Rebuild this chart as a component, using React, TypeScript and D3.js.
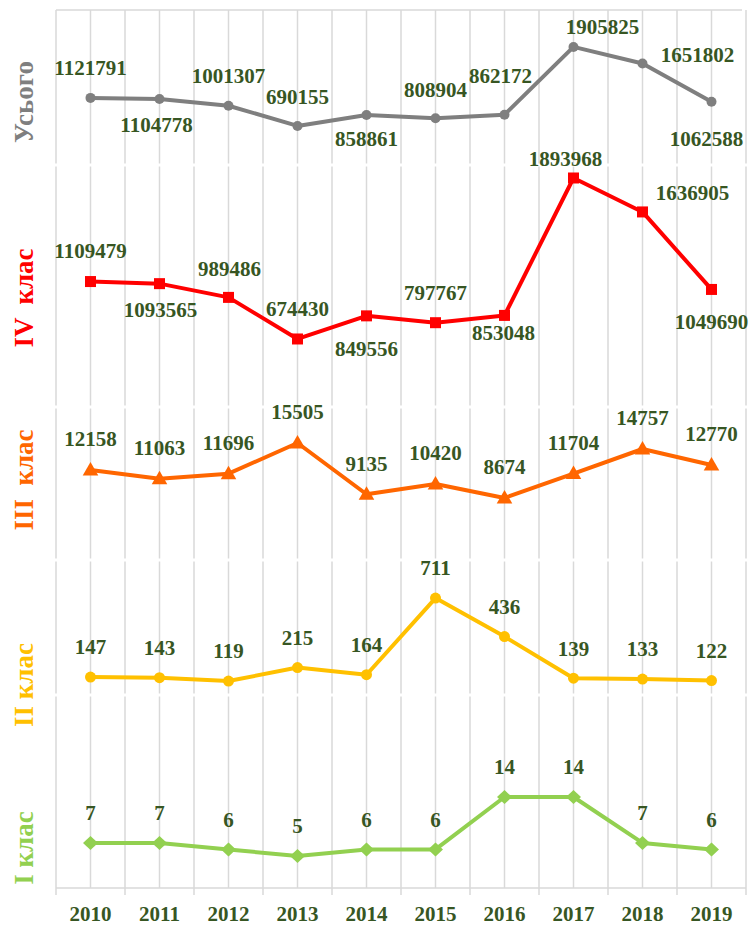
import React from "react";
import * as d3 from "d3";

const years = ["2010", "2011", "2012", "2013", "2014", "2015", "2016", "2017", "2018", "2019"];
const totalValues = [1121791, 1104778, 1001307, 690155, 858861, 808904, 862172, 1905825, 1651802, 1062588];
const class4Values = [1109479, 1093565, 989486, 674430, 849556, 797767, 853048, 1893968, 1636905, 1049690];
const class3Values = [12158, 11063, 11696, 15505, 9135, 10420, 8674, 11704, 14757, 12770];
const class2Values = [147, 143, 119, 215, 164, 711, 436, 139, 133, 122];
const class1Values = [7, 7, 6, 5, 6, 6, 14, 14, 7, 6];
const panelTitles = ["Усього", "IV  клас", "III  клас", "II клас", "I клас"];

// label offsets (dx, dy) relative to each point
const totalLabelOffsets = [[0, -30], [-3, 26], [0, -30], [0, -29], [0, 24], [0, -29], [-4, -39], [29, -20], [55, -9], [-5, 37]];
const class4LabelOffsets = [[0, -31], [1, 26], [1, -29], [0, -30], [0, 33], [0, -30], [-1, 17], [-8, -19], [50, -19], [0, 32]];
const above = [0, -31];

const W = 753;
const H = 926;
const LEFT = 56;
const RIGHT = 746;
const TOP = 10;
const BOTTOM = 888;
const BREAKS = [TOP, 165, 407, 560, 695, BOTTOM];
const LABEL_COLOR = "#375623";
const FONT = "'Liberation Serif', 'Times New Roman', serif";

type Panel = {
  title: string;
  values: number[];
  color: string;
  marker: "circle" | "square" | "triangle" | "diamond";
  domain: [number, number];
  range: [number, number];
  titleY: number;
  offsets: number[][];
};

const panels: Panel[] = [
  { title: panelTitles[0], values: totalValues, color: "#7f7f7f", marker: "circle", domain: [0, 2000000], range: [170.8, 40.8], titleY: 102, offsets: totalLabelOffsets },
  { title: panelTitles[1], values: class4Values, color: "#ff0000", marker: "square", domain: [0, 2000000], range: [428, 164], titleY: 298, offsets: class4LabelOffsets },
  { title: panelTitles[2], values: class3Values, color: "#ff6600", marker: "triangle", domain: [0, 18000], range: [567.8, 422.9], titleY: 480, offsets: class3Values.map(() => above) },
  { title: panelTitles[3], values: class2Values, color: "#ffc000", marker: "circle", domain: [0, 800], range: [697.7, 585.6], titleY: 685, offsets: class2Values.map(() => [0, -30]) },
  { title: panelTitles[4], values: class1Values, color: "#92d050", marker: "diamond", domain: [0, 16], range: [888.8, 783.9], titleY: 848, offsets: class1Values.map(() => [0, -30]) },
];

function Marker({ type, x, y, color, r }: { type: string; x: number; y: number; color: string; r?: number }) {
  if (type === "circle") return <circle cx={x} cy={y} r={r ?? 5} fill={color} />;
  if (type === "square") return <rect x={x - 5.5} y={y - 5.5} width={11} height={11} fill={color} />;
  if (type === "triangle") {
    const p = d3.symbol().type(d3.symbolTriangle).size(105)();
    return <path d={p as string} transform={`translate(${x},${y + 1})`} fill={color} />;
  }
  const d = `M${x},${y - 7}L${x + 7.5},${y}L${x},${y + 7}L${x - 7.5},${y}Z`;
  return <path d={d} fill={color} />;
}

export default function App() {
  const xBand = d3.scaleBand<string>().domain(years).range([LEFT, RIGHT]).padding(0);
  const bw = xBand.bandwidth();
  const cx = (yr: string) => (xBand(yr) as number) + bw / 2;

  const gridXs: number[] = [];
  for (let k = 0; k <= years.length * 2; k++) gridXs.push(LEFT + (k * bw) / 2);

  return (
    <svg width={W} height={H} style={{ position: "absolute", left: 0, top: 0, display: "block", background: "#fff" }}>
      <rect x={0} y={0} width={W} height={H} fill="#fff" />
      {/* gridlines */}
      {gridXs.map((gx, i) =>
        BREAKS.slice(0, -1).map((b, j) => (
          <line key={`g${i}-${j}`} x1={gx} x2={gx} y1={b + (j === 0 ? 0 : 1.5)} y2={BREAKS[j + 1] - (j === BREAKS.length - 2 ? 0 : 1.5)} stroke="#d9d9d9" strokeWidth={1.5} />
        ))
      )}
      <line x1={LEFT} x2={RIGHT - 4} y1={TOP} y2={TOP} stroke="#d9d9d9" strokeWidth={1.5} />
      <line x1={LEFT} x2={RIGHT} y1={BOTTOM} y2={BOTTOM} stroke="#d9d9d9" strokeWidth={1.5} />
      {years.map((yr, i) => (
        <line key={`t${i}`} x1={xBand(yr) as number} x2={xBand(yr) as number} y1={BOTTOM} y2={BOTTOM + 7} stroke="#d9d9d9" strokeWidth={1.5} />
      ))}
      <line x1={RIGHT} x2={RIGHT} y1={BOTTOM} y2={BOTTOM + 7} stroke="#d9d9d9" strokeWidth={1.5} />

      {/* x axis labels */}
      {years.map((yr) => (
        <text key={`x${yr}`} x={cx(yr)} y={914} dy="0.35em" textAnchor="middle" fontFamily={FONT} fontWeight="bold" fontSize={21} fill={LABEL_COLOR}>
          {yr}
        </text>
      ))}

      {panels.map((p, pi) => {
        const y = d3.scaleLinear().domain(p.domain).range(p.range);
        const line = d3
          .line<number>()
          .x((_, i) => cx(years[i]))
          .y((v) => y(v));
        return (
          <g key={`p${pi}`}>
            <text
              transform={`translate(33,${p.titleY}) rotate(-90)`}
              textAnchor="middle"
              fontFamily={FONT}
              fontWeight="bold"
              fontSize={27}
              fill={p.color}
              style={{ whiteSpace: "pre" }}
            >
              {p.title}
            </text>
            <path d={line(p.values) as string} fill="none" stroke={p.color} strokeWidth={4} strokeLinejoin="round" strokeLinecap="round" />
            {p.values.map((v, i) => (
              <Marker key={`m${i}`} type={p.marker} x={cx(years[i])} y={y(v)} color={p.color} r={pi === 3 ? 5.5 : 5} />
            ))}
            {p.values.map((v, i) => (
              <text
                key={`l${i}`}
                x={cx(years[i]) + p.offsets[i][0]}
                y={y(v) + p.offsets[i][1]}
                dy="0.35em"
                textAnchor="middle"
                fontFamily={FONT}
                fontWeight="bold"
                fontSize={21}
                fill={LABEL_COLOR}
              >
                {v}
              </text>
            ))}
          </g>
        );
      })}
    </svg>
  );
}
